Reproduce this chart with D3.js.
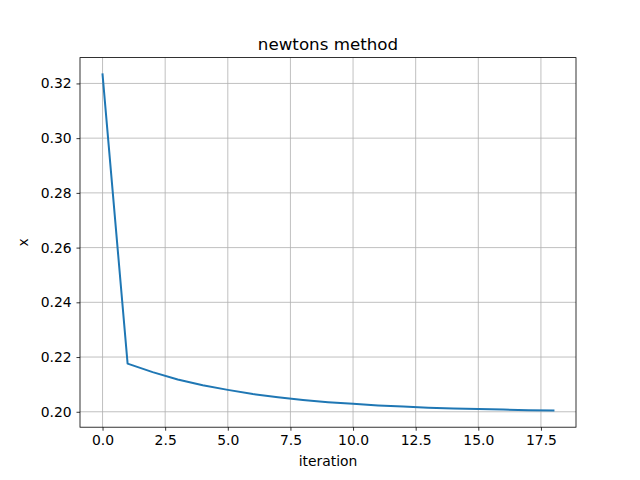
<!DOCTYPE html>
<html><head><meta charset="utf-8">
<script src="https://cdn.jsdelivr.net/npm/d3@7"></script>
<style>body{margin:0;background:#fff;font-family:"DejaVu Sans",sans-serif;}</style>
</head><body><div class="chart"></div>
<script>
const iterations = d3.range(0, 19);
const xValues = [0.3233, 0.2176, 0.2145, 0.2118, 0.2097, 0.2080, 0.2065, 0.2053, 0.2043, 0.2035,
                 0.2029, 0.2023, 0.2019, 0.2015, 0.2012, 0.2010, 0.2008, 0.2006, 0.2005];
const xTicks = [0, 2.5, 5, 7.5, 10, 12.5, 15, 17.5];
const yTicks = [0.20, 0.22, 0.24, 0.26, 0.28, 0.30, 0.32];

const margin = {top: 57.6, right: 64, bottom: 52.8, left: 80};
const W = 640, H = 480;
const width = W - margin.left - margin.right, height = H - margin.top - margin.bottom;

const svg = d3.select('.chart').append('svg').attr('width', W).attr('height', H)
  .append('g').attr('transform', `translate(${margin.left},${margin.top})`);

const xMin = d3.min(iterations), xMax = d3.max(iterations), xp = (xMax - xMin) * 0.05;
const yMin = d3.min(xValues), yMax = d3.max(xValues), yp = (yMax - yMin) * 0.05;
const x = d3.scaleLinear().domain([xMin - xp, xMax + xp]).range([0, width]);
const y = d3.scaleLinear().domain([yMin - yp, yMax + yp]).range([height, 0]);

// grid
svg.selectAll('.gx').data(xTicks).enter().append('line')
  .attr('x1', d => x(d)).attr('x2', d => x(d)).attr('y1', 0).attr('y2', height)
  .attr('stroke', '#b0b0b0').attr('stroke-width', 0.8);
svg.selectAll('.gy').data(yTicks).enter().append('line')
  .attr('y1', d => y(d)).attr('y2', d => y(d)).attr('x1', 0).attr('x2', width)
  .attr('stroke', '#b0b0b0').attr('stroke-width', 0.8);

const xAxis = d3.axisBottom(x).tickValues(xTicks).tickSize(3.5).tickPadding(4.9).tickFormat(d3.format('.1f'));
const yAxis = d3.axisLeft(y).tickValues(yTicks).tickSize(3.5).tickPadding(4.9).tickFormat(d3.format('.2f'));
const gx = svg.append('g').attr('transform', `translate(0,${height})`).call(xAxis);
const gy = svg.append('g').call(yAxis);
[gx, gy].forEach(g => {
  g.select('.domain').remove();
  g.selectAll('text').attr('font-size', 13.9).attr('fill', '#000').attr('font-family', 'DejaVu Sans');
  g.selectAll('.tick line').attr('stroke', '#000').attr('stroke-width', 0.8);
});

svg.append('rect').attr('width', width).attr('height', height)
  .attr('fill', 'none').attr('stroke', '#000').attr('stroke-width', 0.8);

svg.append('path').datum(iterations)
  .attr('d', d3.line().x(i => x(i)).y(i => y(xValues[i])))
  .attr('fill', 'none').attr('stroke', '#1f77b4').attr('stroke-width', 2)
  .attr('stroke-linejoin', 'round').attr('stroke-linecap', 'square');

svg.append('text').attr('x', width / 2).attr('y', -8).attr('text-anchor', 'middle')
  .attr('font-size', 16.7).text('newtons method');
svg.append('text').attr('x', width / 2).attr('y', height + 39).attr('text-anchor', 'middle')
  .attr('font-size', 13.9).text('iteration');
svg.append('text').attr('transform', `translate(-52,${height / 2}) rotate(-90)`)
  .attr('text-anchor', 'middle').attr('font-size', 13.9).text('x');
</script></body></html>
